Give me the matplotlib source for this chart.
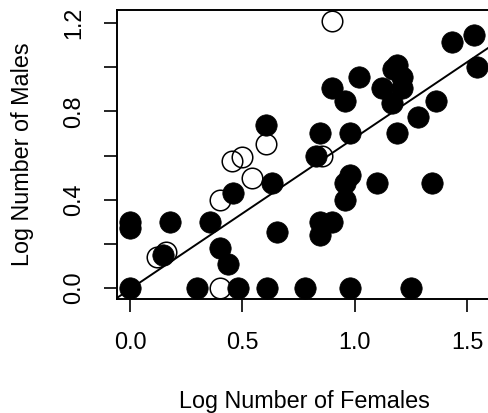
import numpy as np
import matplotlib
matplotlib.use("Agg")
import matplotlib.pyplot as plt

plt.rcParams['font.family'] = ['Liberation Sans', 'DejaVu Sans']

# puntos rellenos (log hembras, log machos)
fem_llenos = [0.00, 0.00, 0.00, 0.18, 0.356, 0.147, 0.30, 0.48, 0.61, 0.78, 0.98, 1.25,
              0.40, 0.435, 0.458, 0.632, 0.605, 0.654, 0.846, 0.90, 0.846, 0.957, 0.957,
              0.98, 1.10, 1.344, 0.90, 0.957, 1.02, 0.846, 0.83, 0.98, 1.19, 1.17, 1.12,
              1.21, 1.165, 1.21, 1.28, 1.36, 1.19, 1.435, 1.53, 1.545]
mac_llenos = [0.00, 0.30, 0.27, 0.30, 0.30, 0.15, 0.00, 0.00, 0.00, 0.00, 0.00, 0.00,
              0.18, 0.11, 0.43, 0.475, 0.74, 0.255, 0.30, 0.30, 0.24, 0.40, 0.475,
              0.51, 0.475, 0.475, 0.905, 0.845, 0.955, 0.70, 0.60, 0.70, 1.01, 0.99, 0.905,
              0.905, 0.84, 0.955, 0.775, 0.845, 0.70, 1.115, 1.145, 1.00]

# puntos abiertos
fem_abiertos = [0.40, 0.12, 0.16, 0.40, 0.543, 0.454, 0.498, 0.605, 0.90, 0.855]
mac_abiertos = [0.00, 0.14, 0.165, 0.40, 0.50, 0.575, 0.593, 0.65, 1.21, 0.60]

# recta de regresion
intercepto = -0.005
pendiente = 0.685

xticks = [0.0, 0.5, 1.0, 1.5]
yticks = [0.0, 0.2, 0.4, 0.6, 0.8, 1.0, 1.2]
yticklabels = ["0.0", "", "0.4", "", "0.8", "", "1.2"]

W, H = 489, 413
fig = plt.figure(figsize=(W / 100, H / 100), dpi=100)
ax = fig.add_axes([117 / W, (H - 299) / H, (491 - 117) / W, (299 - 10) / H])

ax.plot(fem_abiertos, mac_abiertos, 'o', ms=14.8, mfc='none', mec='black', mew=1.1, zorder=2)
ax.plot(fem_llenos, mac_llenos, 'o', ms=15.4, mfc='black', mec='black', mew=0.5, zorder=3)
ax.axline((0, intercepto), slope=pendiente, color='black', lw=1.4, zorder=4)

ax.set_xlim(-0.058, 1.607)
ax.set_ylim(-0.0498, 1.259)
ax.set_xticks(xticks)
ax.set_xticklabels(["0.0", "0.5", "1.0", "1.5"])
ax.set_yticks(yticks)
ax.set_yticklabels(yticklabels, rotation=90, va='center')
ax.tick_params(length=9.5, width=1.2, labelsize=16.8, pad=13.5)
for s in ax.spines.values():
    s.set_linewidth(1.4)

ax.set_xlabel("Log Number of Females", fontsize=16.8, labelpad=26)
ax.set_ylabel("Log Number of Males", fontsize=16.8, labelpad=20)

fig.savefig("out.png", dpi=100)
